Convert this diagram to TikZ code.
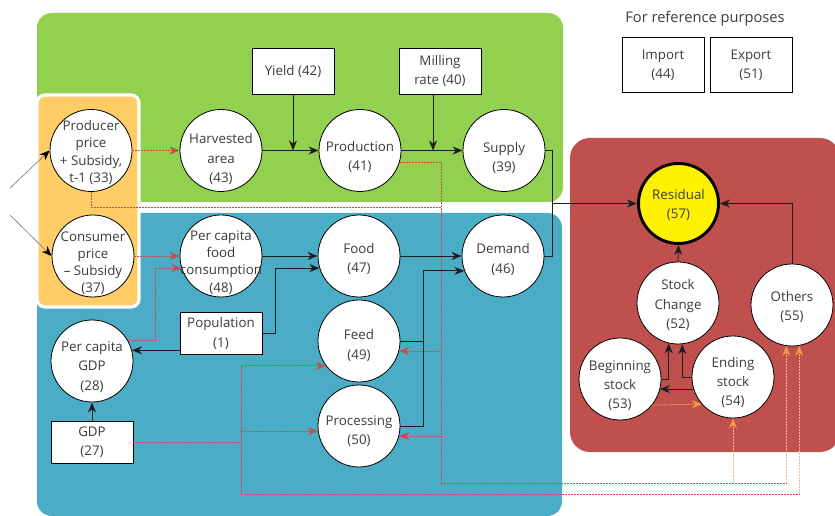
\documentclass[tikz,border=0pt]{standalone}
\usepackage{fontspec}
\setmainfont{Open Sans}
\usetikzlibrary{arrows.meta,calc}
\definecolor{cgreen}{RGB}{146,208,80}
\definecolor{cblue}{RGB}{75,172,198}
\definecolor{corange}{RGB}{255,204,102}
\definecolor{cred}{RGB}{192,80,77}
\definecolor{dotred}{RGB}{215,70,65}
\definecolor{tipred}{RGB}{192,80,77}
\definecolor{tiporange}{RGB}{247,150,70}
\definecolor{peach}{RGB}{250,185,140}
\definecolor{txt}{RGB}{60,60,60}
\definecolor{lnk}{RGB}{30,30,30}
\begin{document}
\begin{tikzpicture}[x=0.75pt,y=-0.75pt,
  font=\fontsize{10}{14.4}\selectfont,
  circ/.style={circle,draw=black,fill=white,line width=0.6pt,minimum size=61.5pt,inner sep=0pt},
  ct/.style={align=center,text=txt,inner sep=0pt,font=\fontsize{10}{14.4}\selectfont},
  ct4/.style={ct,font=\fontsize{10}{12.9}\selectfont},
  sq/.style={rectangle,draw=black,fill=white,line width=0.6pt,minimum width=61.5pt,align=center,text=txt,inner sep=0pt},
  blk/.style={draw=lnk,line width=0.6pt},
  conn/.style={blk,-{Stealth[length=7.5pt,width=6pt,inset=2.4pt]}},
  gconn/.style={draw=black!55,line width=0.45pt,-{Stealth[length=7.5pt,width=6pt,inset=2.4pt,color=black]}},
  rdot/.style={draw=dotred,line width=0.65pt,dash pattern=on 1.5pt off 0.75pt},
  rconn/.style={rdot,-{Stealth[length=7.5pt,width=6pt,inset=2.4pt,color=tipred]}},
  pdot/.style={draw=peach,line width=0.65pt,dash pattern=on 1.5pt off 0.75pt},
  oconn/.style={pdot,-{Stealth[length=7.5pt,width=6pt,inset=2.4pt,color=tiporange]}},
  odot/.style={draw=tiporange,line width=0.65pt,dash pattern=on 1.5pt off 0.75pt,-{Stealth[length=7.5pt,width=6pt,inset=2.4pt,color=tiporange]}}
]
\useasboundingbox (0,0) rectangle (835,516);
% background regions
\fill[cgreen, rounded corners=11pt] (37,13) rectangle (563,202);
\fill[cblue, rounded corners=11pt] (37,213) rectangle (562,516);
\fill[cred, rounded corners=15pt] (570,138) rectangle (840,452);
\filldraw[fill=corange, draw=white, line width=2.4pt, rounded corners=6pt] (37,95) rectangle (139,307);

% reference
\node[text=txt,font=\fontsize{11}{13}\selectfont] (refttl) at (705,19) {For reference purposes};
\node[sq,minimum height=41pt] (imp) at (663,65) {Import\\(44)};
\node[sq,minimum height=41pt] (exp) at (751,65) {Export\\(51)};

% green nodes
\node[circ,label={[ct4,yshift=-1.5pt]center:Producer\\price\\+ Subsidy,\\t-1 (33)}] (pp) at (91,150.5) {};
\node[circ,label={[ct,yshift=-6.5pt]center:Harvested\\area\\(43)}] (ha) at (221,150.5) {};
\node[circ,label={[ct,yshift=-5pt]center:Production\\(41)}] (pr) at (360,150.5) {};
\node[circ,label={[ct,yshift=-5.5pt]center:Supply\\(39)}] (su) at (504,150.5) {};
\node[sq,minimum height=34.5pt] (yi) at (293,71) {Yield (42)};
\node[sq,minimum height=34.5pt] (mi) at (440,71) {Milling\\rate (40)};

% blue nodes
\node[circ,label={[ct4,yshift=-5.5pt]center:Consumer\\price\\– Subsidy\\(37)}] (cp) at (93,256) {};
\node[circ,label={[ct4,yshift=-4.8pt]center:Per capita\\food\\consumption\\(48)}] (pf) at (221,256) {};
\node[circ,label={[ct,yshift=-2.2pt]center:Food\\(47)}] (fo) at (359,256) {};
\node[circ,label={[ct,yshift=-2.6pt]center:Demand\\(46)}] (de) at (503,256) {};
\node[circ,label={[ct,yshift=-3.4pt]center:Feed\\(49)}] (fe) at (359,341) {};
\node[circ,label={[ct,yshift=-3.8pt]center:Processing\\(50)}] (pc) at (359,426) {};
\node[circ,label={[ct,yshift=-4.5pt]center:Per capita\\GDP\\(28)}] (pg) at (92,361) {};
\node[sq,minimum height=31pt] (po) at (221,333.5) {Population\\(1)};
\node[sq,minimum height=31pt] (gd) at (92,442.5) {GDP\\(27)};

% red nodes
\node[circ,fill=yellow,line width=2.2pt,minimum size=60pt,label={[ct,yshift=-1.2pt]center:Residual\\(57)}] (re) at (678.5,203.5) {};
\node[circ,label={[ct,yshift=-1.5pt]center:Stock\\Change\\(52)}] (sc) at (678,303) {};
\node[circ,label={[ct,yshift=-1.5pt]center:Others\\(55)}] (ot) at (792,305) {};
\node[circ,label={[ct,yshift=-5pt]center:Beginning\\stock\\(53)}] (bs) at (620,379) {};
\node[circ,label={[ct,yshift=-4pt]center:Ending\\stock\\(54)}] (es) at (733,377) {};

% outside inputs
\coordinate (in1) at (10,188);
\coordinate (in2) at (10,215);
\draw[gconn] (in1) -- (pp.west);
\draw[gconn] (in2) -- (cp.west);

% red dotted links
\coordinate (v1) at (441,162);
\coordinate (v2) at (441,483);
\coordinate (g1) at (241,366);
\coordinate (g2) at (241,494);
\draw[rconn] (pp.east) -- (ha.west);
\draw[rconn] (cp.east) -- (pf.west);
\draw[rconn] (pg.30) -- ++(28,0) |- (pf.197);
\draw[rdot] (pp.south) |- (v1 |- 0,207);
\draw[rdot] (pr.-17) -| (v2);
\draw[rconn] (fe.-14 -| v1) -- (fe.-14);
\draw[rconn] (pc.-14 -| v1) -- (pc.-14);
\draw[rdot] (v2) -- (v2 -| ot.-98);
\draw[oconn] (v2 -| ot.-98) -- (ot.-98);
\draw[oconn] (v2 -| es.south) -- (es.south);
\draw[rdot] (gd.east) -- (gd.east -| g1);
\draw[rconn] (g2) |- (fe.217.6);
\draw[rconn] (pc.187 -| g1) -- (pc.187);
\draw[rdot] (g2) -- (g2 -| ot.-80);
\draw[oconn] (g2 -| ot.-80) -- (ot.-80);

% black links, green area
\draw[conn] (ha.east) -- (pr.west);
\draw[conn] (yi.south) -- (yi.south |- ha.east);
\draw[conn] (pr.east) -- (su.west);
\draw[conn] ($(mi.south)+(-7,0)$) -- ($(mi.south |- pr.east)+(-7,0)$);

% to residual
\coordinate (sd) at (552,203.5);
\draw[blk] (su.east) -| (sd);
\draw[blk] (de.east) -| (sd);
\draw[conn] (sd) -- (re.west);
\draw[conn] (ot.north) |- (re.east);
\draw[conn] (sc.north) -- (re.south);
\draw[conn] (bs.east) -| (sc.-103);
\draw[conn] (es.west) -| (sc.-84);
\draw[conn] (es.197) -- (es.197 -| bs.-15.5);
\draw[odot] (bs.-39.4) -- (es.221.2);

% black links, blue area
\draw[conn] (pf.east) -- (fo.west);
\draw[conn] (po.east) -- ++(13,0) |- (fo.197);
\draw[conn] (po.west |- pg.15.5) -- (pg.15.5);
\draw[conn] (gd.north) -- (pg.south);
\draw[conn] (fo.east) -- (de.west);
\draw[blk] (fe.east) -- ++(23,0);
\draw[conn] (pc.east) -- ++(23,0) |- (de.201.5);
\end{tikzpicture}
\end{document}
